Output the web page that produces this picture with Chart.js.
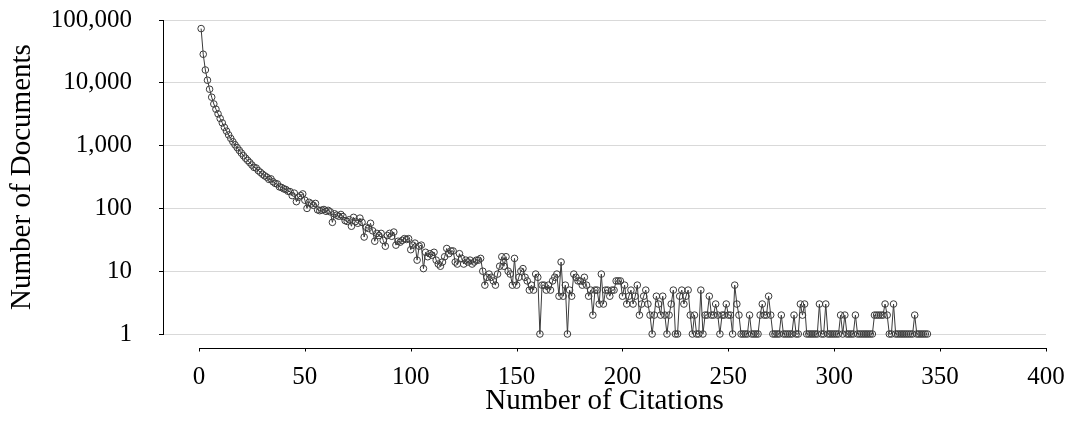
<!DOCTYPE html>
<html>
<head>
<meta charset="utf-8">
<script src="https://cdn.jsdelivr.net/npm/chart.js@4.4.1/dist/chart.umd.min.js"></script>
<style>
  body { margin: 0; background: #fff; }
  #wrap { width: 1070px; height: 423px; }
</style>
</head>
<body>
<div id="wrap"><canvas id="citationChart" width="1070" height="423"></canvas></div>
<script>
// documents per number of citations, citations 1..344
const docs1to50 = [
  73000, 28500, 16000, 11000, 7900, 5900, 4600, 3800, 3200, 2700,
  2300, 1950, 1700, 1480, 1300, 1150, 1030, 930, 840, 760,
  690, 630, 580, 535, 490, 450, 440, 400, 375, 350,
  330, 315, 290, 295, 265, 250, 245, 220, 215, 205,
  200, 188, 185, 160, 175, 128, 150, 160, 170, 135
];
const docs51to100 = [
  100, 125, 118, 112, 120, 95, 92, 94, 96, 90,
  93, 88, 60, 82, 78, 75, 80, 74, 64, 62,
  66, 52, 72, 62, 58, 70, 60, 35, 50, 48,
  58, 44, 30, 40, 37, 40, 31, 25, 37, 40,
  36, 42, 26, 30, 29, 31, 33, 32, 33, 22
];
const docs101to150 = [
  26, 28, 15, 25, 26, 11, 20, 17, 19, 18,
  20, 15, 13, 12, 14, 17, 23, 19, 21, 21,
  14, 13, 19, 16, 13, 15, 14, 15, 13, 14,
  15, 15, 16, 10, 6, 8, 9, 8, 7, 6,
  9, 12, 17, 12, 17, 10, 9, 6, 16, 6
];
const docs151to200 = [
  8, 10, 11, 8, 7, 5, 6, 5, 9, 8,
  1, 6, 6, 5, 6, 5, 7, 8, 9, 4,
  14, 4, 6, 1, 5, 4, 9, 8, 7, 7,
  6, 8, 6, 4, 5, 2, 5, 5, 3, 9,
  3, 5, 5, 4, 5, 5, 7, 7, 7, 4
];
const docs201to250 = [
  6, 3, 4, 5, 3, 4, 6, 2, 3, 4,
  5, 3, 2, 1, 2, 4, 3, 2, 4, 2,
  1, 2, 3, 5, 1, 1, 4, 5, 3, 4,
  5, 2, 1, 2, 1, 1, 5, 1, 2, 2,
  4, 2, 2, 3, 2, 1, 2, 2, 3, 2
];
const docs251to300 = [
  2, 1, 6, 3, 2, 1, 1, 1, 1, 2,
  1, 1, 1, 1, 2, 3, 2, 2, 4, 2,
  1, 1, 1, 1, 2, 1, 1, 1, 1, 1,
  2, 1, 1, 3, 2, 3, 1, 1, 1, 1,
  1, 1, 3, 1, 1, 3, 1, 1, 1, 1
];
const docs301to344 = [
  1, 1, 2, 1, 2, 1, 1, 1, 1, 2,
  1, 1, 1, 1, 1, 1, 1, 1, 2, 2,
  2, 2, 2, 3, 2, 1, 1, 3, 1, 1,
  1, 1, 1, 1, 1, 1, 1, 2, 1, 1,
  1, 1, 1, 1
];

const xTicks = [0, 50, 100, 150, 200, 250, 300, 350, 400];
const yTicks = [1, 10, 100, 1000, 10000, 100000];

const documents = [].concat(docs1to50, docs51to100, docs101to150, docs151to200,
  docs201to250, docs251to300, docs301to344);
// index 0 is 1 citation
const points = documents.map((d, i) => ({ x: i + 1, y: d }));

const serif = '"Liberation Serif", "Times New Roman", serif';

function noPadding(scale) {
  scale.paddingTop = 0;
  scale.paddingBottom = 0;
  scale.paddingLeft = 0;
  scale.paddingRight = 0;
}

// x axis line sits below the plot, from 0 to 400 only
const xAxisLine = {
  id: 'xAxisLine',
  afterDraw(chart) {
    const ctx = chart.ctx;
    const x = chart.scales.x;
    const y = Math.round(chart.chartArea.bottom + 14) + 0.5;
    ctx.save();
    ctx.strokeStyle = '#000';
    ctx.lineWidth = 1;
    ctx.beginPath();
    ctx.moveTo(Math.round(x.getPixelForValue(xTicks[0])), y);
    ctx.lineTo(Math.round(x.getPixelForValue(xTicks[xTicks.length - 1])) + 1, y);
    xTicks.forEach(function (v) {
      const px = Math.round(x.getPixelForValue(v)) + 0.5;
      ctx.moveTo(px, y);
      ctx.lineTo(px, y + 3);
    });
    ctx.stroke();
    ctx.restore();
  }
};

new Chart(document.getElementById('citationChart'), {
  type: 'line',
  data: {
    datasets: [{
      data: points,
      borderColor: '#3a3a3a',
      borderWidth: 1,
      backgroundColor: 'rgba(0,0,0,0)',
      pointRadius: 3.3,
      pointBorderWidth: 1,
      pointBorderColor: '#3a3a3a',
      pointBackgroundColor: 'rgba(0,0,0,0)',
      tension: 0,
      clip: false
    }]
  },
  options: {
    responsive: false,
    devicePixelRatio: 1,
    animation: false,
    layout: { padding: { top: 20, right: 24, left: 2, bottom: 4 } },
    plugins: {
      legend: { display: false },
      tooltip: { enabled: false }
    },
    scales: {
      x: {
        type: 'linear',
        min: -17,
        max: 400,
        afterBuildTicks: function (scale) {
          scale.ticks = xTicks.map(function (v) { return { value: v }; });
        },
        afterFit: function (scale) {
          scale.height = 85;
          noPadding(scale);
        },
        grid: { display: false },
        border: { display: false },
        ticks: {
          color: '#000',
          font: { family: serif, size: 25 },
          padding: 20,
          maxRotation: 0,
          autoSkip: false
        },
        title: {
          display: true,
          text: 'Number of Citations',
          color: '#000',
          font: { family: serif, size: 29 },
          padding: { top: 0, bottom: 0 }
        }
      },
      y: {
        type: 'logarithmic',
        min: 1,
        max: 100000,
        afterBuildTicks: function (scale) {
          scale.ticks = yTicks.map(function (v) { return { value: v }; });
        },
        afterFit: function (scale) {
          scale.width = 161;
          noPadding(scale);
        },
        grid: { color: '#d9d9d9', tickColor: '#000', tickLength: 4 },
        border: { display: true, color: '#000', width: 1 },
        ticks: {
          color: '#000',
          font: { family: serif, size: 25 },
          padding: 27,
          callback: function (v) { return Number(v).toLocaleString('en-US'); }
        },
        title: {
          display: true,
          text: 'Number of Documents',
          color: '#000',
          font: { family: serif, size: 29 },
          padding: { top: 3, bottom: 10 }
        }
      }
    }
  },
  plugins: [xAxisLine]
});
</script>
</body>
</html>
